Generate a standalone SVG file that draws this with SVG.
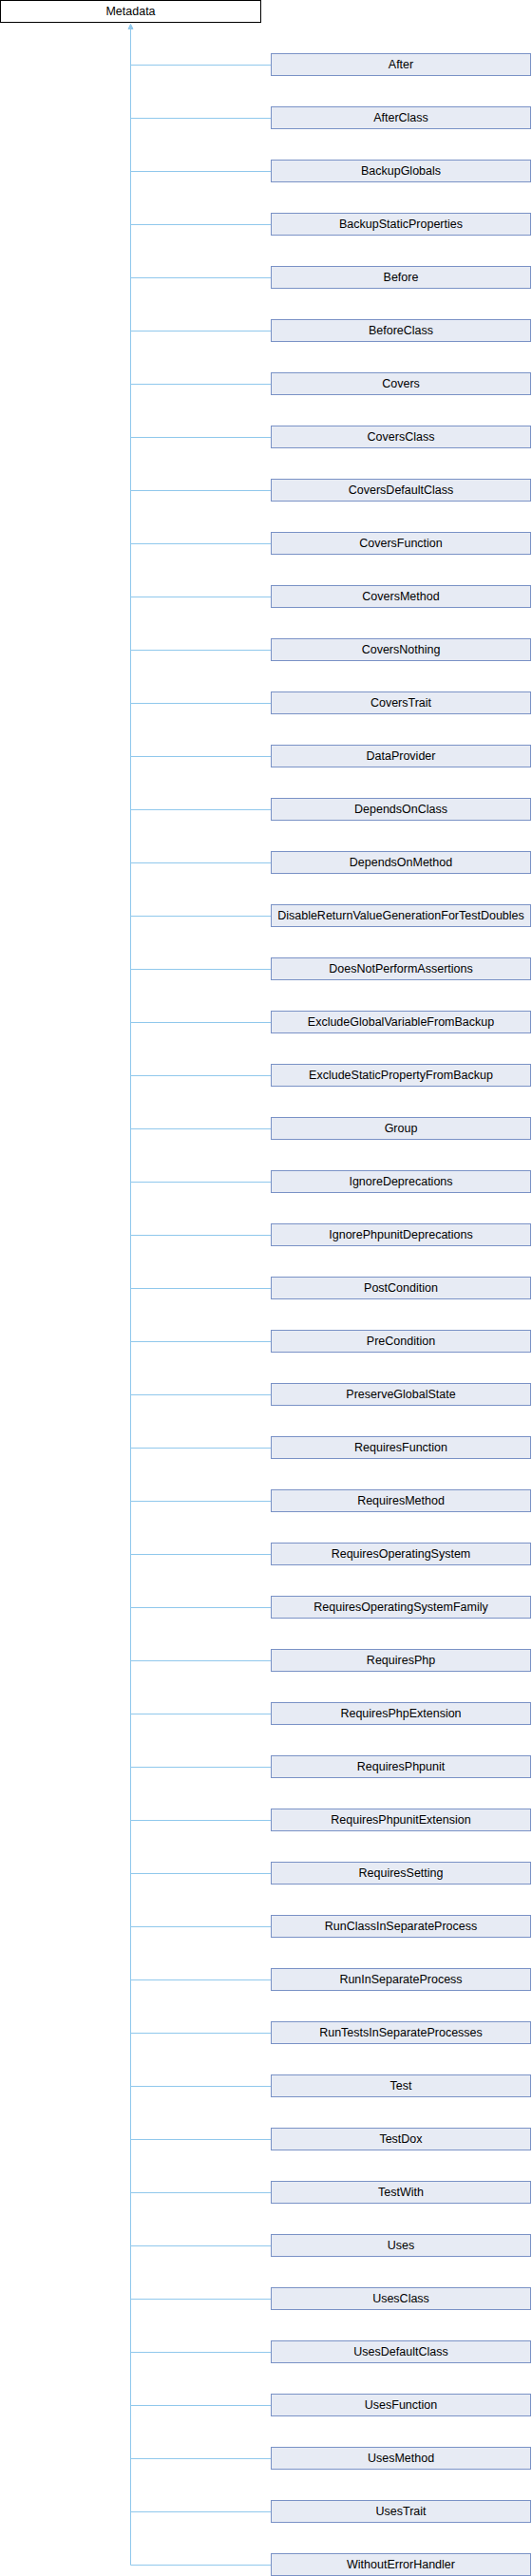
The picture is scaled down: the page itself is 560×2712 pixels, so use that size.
<svg xmlns="http://www.w3.org/2000/svg" width="560" height="2712" viewBox="0 0 560 2712">
<style>
.n rect{fill:#E7EBF4;stroke:#7A92C6;stroke-width:1}
.root rect{fill:#FFFFFF;stroke:#000000;stroke-width:1}
text{font-family:"Liberation Sans",Arial,sans-serif;font-size:12.5px;fill:#000000;text-anchor:middle}
.e{stroke:#90C8EC;stroke-width:1;fill:none}
.ah{fill:#90C8EC;stroke:#90C8EC;stroke-width:1}
</style>
<rect width="560" height="2712" fill="#FFFFFF"/>
<g id="connectors">
<path class="e" d="M137.5,30V2700.5"/>
<polygon class="ah" points="137.5,25.5 135,30.5 140,30.5"/>
<path class="e" d="M137.5,68.5H285.5M137.5,124.5H285.5M137.5,180.5H285.5M137.5,236.5H285.5M137.5,292.5H285.5M137.5,348.5H285.5M137.5,404.5H285.5M137.5,460.5H285.5M137.5,516.5H285.5M137.5,572.5H285.5M137.5,628.5H285.5M137.5,684.5H285.5M137.5,740.5H285.5M137.5,796.5H285.5M137.5,852.5H285.5M137.5,908.5H285.5M137.5,964.5H285.5M137.5,1020.5H285.5M137.5,1076.5H285.5M137.5,1132.5H285.5M137.5,1188.5H285.5M137.5,1244.5H285.5M137.5,1300.5H285.5M137.5,1356.5H285.5M137.5,1412.5H285.5M137.5,1468.5H285.5M137.5,1524.5H285.5M137.5,1580.5H285.5M137.5,1636.5H285.5M137.5,1692.5H285.5M137.5,1748.5H285.5M137.5,1804.5H285.5M137.5,1860.5H285.5M137.5,1916.5H285.5M137.5,1972.5H285.5M137.5,2028.5H285.5M137.5,2084.5H285.5M137.5,2140.5H285.5M137.5,2196.5H285.5M137.5,2252.5H285.5M137.5,2308.5H285.5M137.5,2364.5H285.5M137.5,2420.5H285.5M137.5,2476.5H285.5M137.5,2532.5H285.5M137.5,2588.5H285.5M137.5,2644.5H285.5M137.5,2700.5H285.5"/>
</g>
<g id="Metadata" class="root"><rect x="0.5" y="0.5" width="274" height="23"/><text x="137.5" y="16">Metadata</text></g>
<g id="After" class="n"><rect x="285.5" y="56.5" width="273" height="23"/><text x="422" y="72">After</text></g>
<g id="AfterClass" class="n"><rect x="285.5" y="112.5" width="273" height="23"/><text x="422" y="128">AfterClass</text></g>
<g id="BackupGlobals" class="n"><rect x="285.5" y="168.5" width="273" height="23"/><text x="422" y="184">BackupGlobals</text></g>
<g id="BackupStaticProperties" class="n"><rect x="285.5" y="224.5" width="273" height="23"/><text x="422" y="240">BackupStaticProperties</text></g>
<g id="Before" class="n"><rect x="285.5" y="280.5" width="273" height="23"/><text x="422" y="296">Before</text></g>
<g id="BeforeClass" class="n"><rect x="285.5" y="336.5" width="273" height="23"/><text x="422" y="352">BeforeClass</text></g>
<g id="Covers" class="n"><rect x="285.5" y="392.5" width="273" height="23"/><text x="422" y="408">Covers</text></g>
<g id="CoversClass" class="n"><rect x="285.5" y="448.5" width="273" height="23"/><text x="422" y="464">CoversClass</text></g>
<g id="CoversDefaultClass" class="n"><rect x="285.5" y="504.5" width="273" height="23"/><text x="422" y="520">CoversDefaultClass</text></g>
<g id="CoversFunction" class="n"><rect x="285.5" y="560.5" width="273" height="23"/><text x="422" y="576">CoversFunction</text></g>
<g id="CoversMethod" class="n"><rect x="285.5" y="616.5" width="273" height="23"/><text x="422" y="632">CoversMethod</text></g>
<g id="CoversNothing" class="n"><rect x="285.5" y="672.5" width="273" height="23"/><text x="422" y="688">CoversNothing</text></g>
<g id="CoversTrait" class="n"><rect x="285.5" y="728.5" width="273" height="23"/><text x="422" y="744">CoversTrait</text></g>
<g id="DataProvider" class="n"><rect x="285.5" y="784.5" width="273" height="23"/><text x="422" y="800">DataProvider</text></g>
<g id="DependsOnClass" class="n"><rect x="285.5" y="840.5" width="273" height="23"/><text x="422" y="856">DependsOnClass</text></g>
<g id="DependsOnMethod" class="n"><rect x="285.5" y="896.5" width="273" height="23"/><text x="422" y="912">DependsOnMethod</text></g>
<g id="DisableReturnValueGenerationForTestDoubles" class="n"><rect x="285.5" y="952.5" width="273" height="23"/><text x="422" y="968">DisableReturnValueGenerationForTestDoubles</text></g>
<g id="DoesNotPerformAssertions" class="n"><rect x="285.5" y="1008.5" width="273" height="23"/><text x="422" y="1024">DoesNotPerformAssertions</text></g>
<g id="ExcludeGlobalVariableFromBackup" class="n"><rect x="285.5" y="1064.5" width="273" height="23"/><text x="422" y="1080">ExcludeGlobalVariableFromBackup</text></g>
<g id="ExcludeStaticPropertyFromBackup" class="n"><rect x="285.5" y="1120.5" width="273" height="23"/><text x="422" y="1136">ExcludeStaticPropertyFromBackup</text></g>
<g id="Group" class="n"><rect x="285.5" y="1176.5" width="273" height="23"/><text x="422" y="1192">Group</text></g>
<g id="IgnoreDeprecations" class="n"><rect x="285.5" y="1232.5" width="273" height="23"/><text x="422" y="1248">IgnoreDeprecations</text></g>
<g id="IgnorePhpunitDeprecations" class="n"><rect x="285.5" y="1288.5" width="273" height="23"/><text x="422" y="1304">IgnorePhpunitDeprecations</text></g>
<g id="PostCondition" class="n"><rect x="285.5" y="1344.5" width="273" height="23"/><text x="422" y="1360">PostCondition</text></g>
<g id="PreCondition" class="n"><rect x="285.5" y="1400.5" width="273" height="23"/><text x="422" y="1416">PreCondition</text></g>
<g id="PreserveGlobalState" class="n"><rect x="285.5" y="1456.5" width="273" height="23"/><text x="422" y="1472">PreserveGlobalState</text></g>
<g id="RequiresFunction" class="n"><rect x="285.5" y="1512.5" width="273" height="23"/><text x="422" y="1528">RequiresFunction</text></g>
<g id="RequiresMethod" class="n"><rect x="285.5" y="1568.5" width="273" height="23"/><text x="422" y="1584">RequiresMethod</text></g>
<g id="RequiresOperatingSystem" class="n"><rect x="285.5" y="1624.5" width="273" height="23"/><text x="422" y="1640">RequiresOperatingSystem</text></g>
<g id="RequiresOperatingSystemFamily" class="n"><rect x="285.5" y="1680.5" width="273" height="23"/><text x="422" y="1696">RequiresOperatingSystemFamily</text></g>
<g id="RequiresPhp" class="n"><rect x="285.5" y="1736.5" width="273" height="23"/><text x="422" y="1752">RequiresPhp</text></g>
<g id="RequiresPhpExtension" class="n"><rect x="285.5" y="1792.5" width="273" height="23"/><text x="422" y="1808">RequiresPhpExtension</text></g>
<g id="RequiresPhpunit" class="n"><rect x="285.5" y="1848.5" width="273" height="23"/><text x="422" y="1864">RequiresPhpunit</text></g>
<g id="RequiresPhpunitExtension" class="n"><rect x="285.5" y="1904.5" width="273" height="23"/><text x="422" y="1920">RequiresPhpunitExtension</text></g>
<g id="RequiresSetting" class="n"><rect x="285.5" y="1960.5" width="273" height="23"/><text x="422" y="1976">RequiresSetting</text></g>
<g id="RunClassInSeparateProcess" class="n"><rect x="285.5" y="2016.5" width="273" height="23"/><text x="422" y="2032">RunClassInSeparateProcess</text></g>
<g id="RunInSeparateProcess" class="n"><rect x="285.5" y="2072.5" width="273" height="23"/><text x="422" y="2088">RunInSeparateProcess</text></g>
<g id="RunTestsInSeparateProcesses" class="n"><rect x="285.5" y="2128.5" width="273" height="23"/><text x="422" y="2144">RunTestsInSeparateProcesses</text></g>
<g id="Test" class="n"><rect x="285.5" y="2184.5" width="273" height="23"/><text x="422" y="2200">Test</text></g>
<g id="TestDox" class="n"><rect x="285.5" y="2240.5" width="273" height="23"/><text x="422" y="2256">TestDox</text></g>
<g id="TestWith" class="n"><rect x="285.5" y="2296.5" width="273" height="23"/><text x="422" y="2312">TestWith</text></g>
<g id="Uses" class="n"><rect x="285.5" y="2352.5" width="273" height="23"/><text x="422" y="2368">Uses</text></g>
<g id="UsesClass" class="n"><rect x="285.5" y="2408.5" width="273" height="23"/><text x="422" y="2424">UsesClass</text></g>
<g id="UsesDefaultClass" class="n"><rect x="285.5" y="2464.5" width="273" height="23"/><text x="422" y="2480">UsesDefaultClass</text></g>
<g id="UsesFunction" class="n"><rect x="285.5" y="2520.5" width="273" height="23"/><text x="422" y="2536">UsesFunction</text></g>
<g id="UsesMethod" class="n"><rect x="285.5" y="2576.5" width="273" height="23"/><text x="422" y="2592">UsesMethod</text></g>
<g id="UsesTrait" class="n"><rect x="285.5" y="2632.5" width="273" height="23"/><text x="422" y="2648">UsesTrait</text></g>
<g id="WithoutErrorHandler" class="n"><rect x="285.5" y="2688.5" width="273" height="23"/><text x="422" y="2704">WithoutErrorHandler</text></g>
</svg>
